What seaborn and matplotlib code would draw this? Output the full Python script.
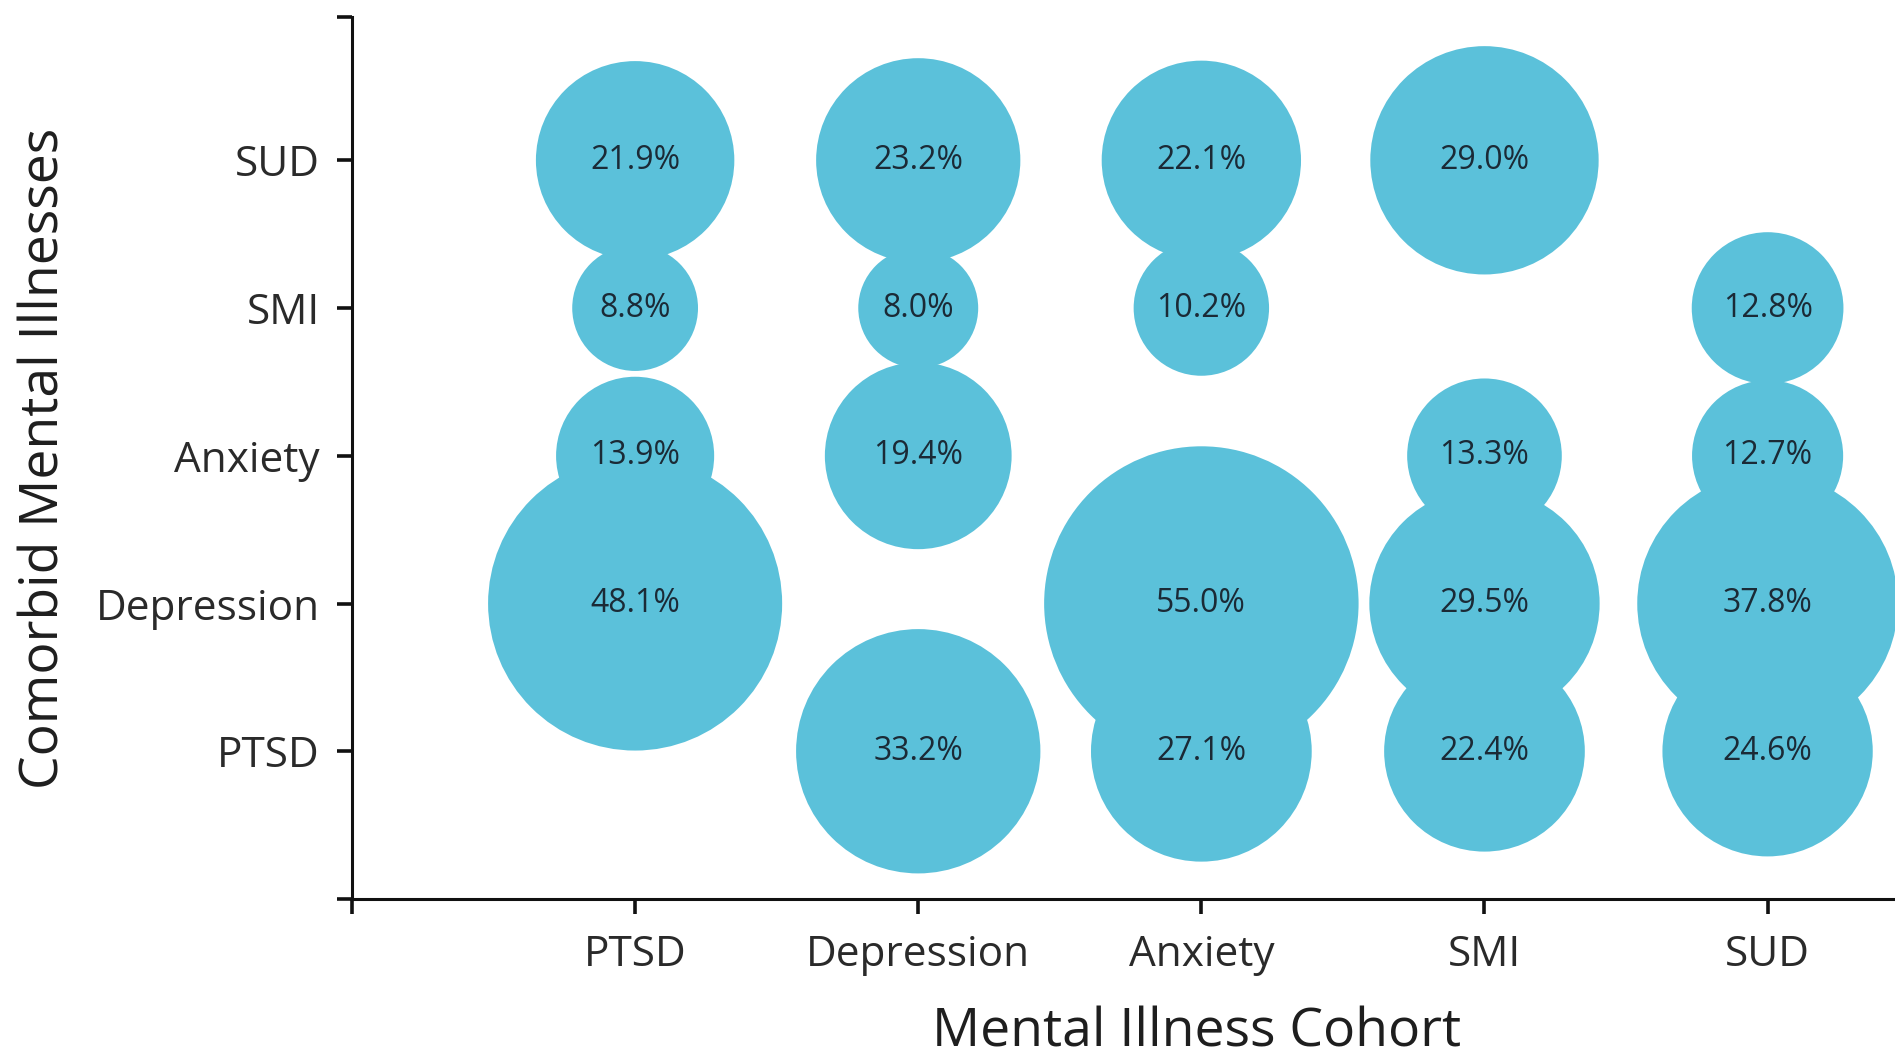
import numpy as np
import pandas as pd
import matplotlib
matplotlib.use("Agg")
import matplotlib.pyplot as plt
import seaborn as sns

# ---- data ----
cohorts = ["PTSD", "Depression", "Anxiety", "SMI", "SUD"]          # x axis
comorbid = ["PTSD", "Depression", "Anxiety", "SMI", "SUD"]         # y axis (bottom -> top)

# values[cohort] in order of comorbid (None = not shown)
ptsd_cohort       = [None, 48.1, 13.9, 8.8, 21.9]
depression_cohort = [33.2, None, 19.4, 8.0, 23.2]
anxiety_cohort    = [27.1, 55.0, None, 10.2, 22.1]
smi_cohort        = [22.4, 29.5, 13.3, None, 29.0]
sud_cohort        = [24.6, 37.8, 12.7, 12.8, None]

series = [ptsd_cohort, depression_cohort, anxiety_cohort, smi_cohort, sud_cohort]
rows = []
for ci, (c, vals) in enumerate(zip(cohorts, series)):
    for ri, (r, v) in enumerate(zip(comorbid, vals)):
        if v is not None:
            rows.append({"cohort": c, "comorbid": r, "x": ci, "y": ri, "pct": v})
df = pd.DataFrame(rows)

# ---- style ----
sns.set_style("white")
plt.rcParams["font.family"] = ["Open Sans", "DejaVu Sans"]

W, H, DPI = 1895, 1059, 100
fig = plt.figure(figsize=(W / DPI, H / DPI), dpi=DPI)
ax = fig.add_axes([352 / W, 1 - 899 / H, 1 - 352 / W, (899 - 17) / H])

bubble_color = "#5bc1da"
k = 932.0  # points^2 per percent (area proportional to value)
vmin, vmax = df["pct"].min(), df["pct"].max()
sns.scatterplot(data=df, x="x", y="y", size="pct",
                sizes=(k * vmin, k * vmax), size_norm=(vmin, vmax),
                color=bubble_color, edgecolor="none", linewidth=0,
                alpha=1.0, legend=False, ax=ax, clip_on=False, zorder=2)

for _, r in df.iterrows():
    ax.text(r["x"], r["y"], f"{r['pct']:.1f}%", ha="center", va="center",
            fontsize=23, color="#1b2a36", zorder=3)

ax.set_xlim(-1, 4.45)
ax.set_ylim(-1, 4.97)
ax.set_xticks(range(-1, 5))
ax.set_xticklabels([""] + cohorts)
ax.set_yticks(list(range(-1, 5)) + [4.97])
ax.set_yticklabels([""] + comorbid + [""])

for s in ["top", "right"]:
    ax.spines[s].set_visible(False)
for s in ["left", "bottom"]:
    ax.spines[s].set_linewidth(2.2)
    ax.spines[s].set_color("#111111")

ax.tick_params(axis="both", which="both", length=11, width=2.6, color="#111111",
               labelsize=30.5, labelcolor="#2a2a2a", direction="out",
               left=True, bottom=True)
ax.tick_params(axis="y", pad=12)
ax.tick_params(axis="x", pad=14)

ax.set_xlabel("Mental Illness Cohort", fontsize=38.5, color="#1e1e1e")
ax.set_ylabel("Comorbid Mental Illnesses", fontsize=38.5, color="#1e1e1e")
ax.xaxis.set_label_coords((1197 - 352) / (W - 352), -(1033 - 899) / (899 - 17))
ax.yaxis.set_label_coords(-(352 - 45) / (W - 352), 0.5)
ax.xaxis.label.set_va("center")
ax.yaxis.label.set_va("center")

fig.savefig("out.png", dpi=DPI)
